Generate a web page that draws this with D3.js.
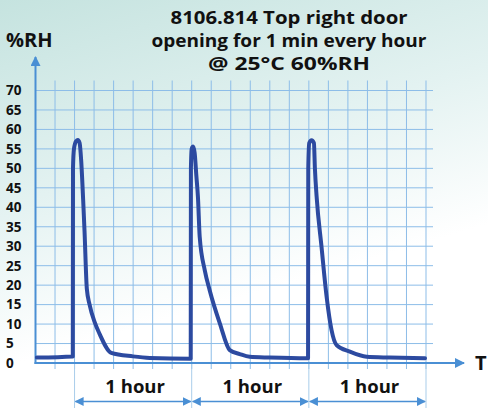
<!DOCTYPE html>
<html>
<head>
<meta charset="utf-8">
<script src="https://cdn.jsdelivr.net/npm/d3@7"></script>
<style>
  html, body { margin: 0; padding: 0; background: #fff; }
  svg { display: block; }
  text { font-family: "Open Sans", Lato, sans-serif; font-weight: 700; fill: #111; }
</style>
</head>
<body>
<svg id="chart" width="488" height="410"></svg>
<script>
// ---- data (time in minutes, %RH) ----
const timeMinutes = [0.7, 19.1, 19.2, 19.7, 20.8, 21.7, 22.6, 23.4, 24.4, 25.1, 26.3, 27.7, 30.3, 32.8, 38.8, 49.9, 58.5, 79.5,
  79.6, 80.0, 80.7, 81.5, 82.4, 83.2, 84.1, 86.7, 89.2, 94.4, 99.5, 104.6, 109.7, 120, 138.8, 139.6,
  139.7, 140.2, 141.4, 142.6, 143.1, 144, 146.5, 149.1, 151.6, 154.2, 161, 169.6, 181.5, 199.5];
const rhValues = [1.4, 1.7, 50, 55, 57, 57.3, 56.5, 52, 42, 34, 19, 15, 10.5, 7.5, 2.6, 1.7, 1.3, 1.1,
  50, 55, 55.6, 54, 48, 42.6, 32.4, 23.8, 18.7, 10.2, 3.3, 2.3, 1.6, 1.4, 1.2, 1.2,
  50, 56.5, 57.2, 56.5, 50, 42.6, 29.8, 17, 8.5, 4.6, 2.9, 1.6, 1.4, 1.2];
const yTicks = [0, 5, 10, 15, 20, 25, 30, 35, 40, 45, 50, 55, 60, 65, 70];
const xGridMinutes = d3.range(10, 201, 10);
const hourStarts = [20, 80, 140];
const hourLabel = "1 hour";
const titleLines = ["8106.814 Top right door", "opening for 1 min every hour", "@ 25°C 60%RH"];
const yLabel = "%RH";
const xLabel = "T";

const svg = d3.select("#chart");
const W = 488, H = 410;

// background gradient
const defs = svg.append("defs");
const grad = defs.append("linearGradient").attr("id", "bg")
  .attr("x1", "0").attr("y1", "0").attr("x2", "0.35").attr("y2", "1");
grad.append("stop").attr("offset", "0").attr("stop-color", "#c5e3df");
grad.append("stop").attr("offset", "0.45").attr("stop-color", "#e3f2f1");
grad.append("stop").attr("offset", "0.8").attr("stop-color", "#ffffff");
svg.append("rect").attr("width", W).attr("height", H).attr("fill", "url(#bg)");

const axisColor = "#4a8fd4";
const gridColor = "#8dbde8";

// arrow markers
defs.append("marker").attr("id", "arr").attr("viewBox", "0 0 10 10")
  .attr("refX", 9).attr("refY", 5).attr("markerWidth", 10).attr("markerHeight", 10)
  .attr("markerUnits", "userSpaceOnUse").attr("orient", "auto-start-reverse")
  .append("path").attr("d", "M0,0 L10,5 L0,10 z").attr("fill", axisColor);
defs.append("marker").attr("id", "arrs").attr("viewBox", "0 0 10 10")
  .attr("refX", 9).attr("refY", 5).attr("markerWidth", 9).attr("markerHeight", 9)
  .attr("markerUnits", "userSpaceOnUse").attr("orient", "auto-start-reverse")
  .append("path").attr("d", "M0,0 L10,5 L0,10 z").attr("fill", axisColor);

const x = d3.scaleLinear().domain([0, 200]).range([35.5, 426]);
const y = d3.scaleLinear().domain([0, 70]).range([363, 90.5]);

// grid
const g = svg.append("g");
g.selectAll("line.h").data(yTicks.filter(d => d > 0)).join("line")
  .attr("x1", x(0)).attr("x2", 433)
  .attr("y1", d => y(d)).attr("y2", d => y(d))
  .attr("stroke", gridColor).attr("stroke-width", 1);
g.selectAll("line.v").data(xGridMinutes).join("line")
  .attr("x1", d => x(d)).attr("x2", d => x(d))
  .attr("y1", y(70) - 10).attr("y2", y(0) + 6)
  .attr("stroke", gridColor).attr("stroke-width", 1);

// hour dividers
const divs = [...hourStarts, hourStarts[hourStarts.length - 1] + 60];
g.selectAll("line.d").data(divs).join("line")
  .attr("x1", d => x(d)).attr("x2", d => x(d))
  .attr("y1", y(0)).attr("y2", 408)
  .attr("stroke", "#a9cdea").attr("stroke-width", 1);

// axes
svg.append("line").attr("x1", x(0)).attr("x2", x(0)).attr("y1", y(0) + 1).attr("y2", 57)
  .attr("stroke", axisColor).attr("stroke-width", 2).attr("marker-end", "url(#arr)");
svg.append("line").attr("x1", x(0) - 1).attr("x2", 464).attr("y1", y(0)).attr("y2", y(0))
  .attr("stroke", axisColor).attr("stroke-width", 2).attr("marker-end", "url(#arr)");

// y tick labels
svg.selectAll("text.yt").data(yTicks).join("text")
  .attr("x", 6).attr("y", d => y(d)).attr("dy", "0.36em")
  .attr("font-size", 13.5).text(d => d);

// axis labels
svg.append("text").attr("x", 6).attr("y", 47).attr("font-size", 20).text(yLabel);
svg.append("text").attr("x", 475).attr("y", 370).attr("font-size", 20).text(xLabel);

// title
const titleWidths = [237, 275, 162];
svg.append("g").selectAll("text").data(titleLines).join("text")
  .attr("x", 289).attr("y", (d, i) => 24 + i * 23)
  .attr("text-anchor", "middle").attr("font-size", 18)
  .attr("textLength", (d, i) => titleWidths[i]).attr("lengthAdjust", "spacingAndGlyphs")
  .text(d => d);

// hour spans
const hours = svg.append("g");
hourStarts.forEach(s => {
  hours.append("line").attr("x1", x(s) + 1).attr("x2", x(s + 60) - 1)
    .attr("y1", 401.5).attr("y2", 401.5)
    .attr("stroke", axisColor).attr("stroke-width", 1.5)
    .attr("marker-start", "url(#arrs)").attr("marker-end", "url(#arrs)");
  hours.append("text").attr("x", x(s + 30) + 2).attr("y", 393)
    .attr("text-anchor", "middle").attr("font-size", 18.5).text(hourLabel);
});

// data line
const pts = timeMinutes.map((t, i) => [t, rhValues[i]]);
const line = d3.line().x(d => x(d[0])).y(d => y(d[1])).curve(d3.curveMonotoneX);
svg.append("path").datum(pts).attr("d", line)
  .attr("fill", "none").attr("stroke", "#2c4aa0").attr("stroke-width", 4)
  .attr("stroke-linejoin", "round").attr("stroke-linecap", "round");
</script>
</body>
</html>
